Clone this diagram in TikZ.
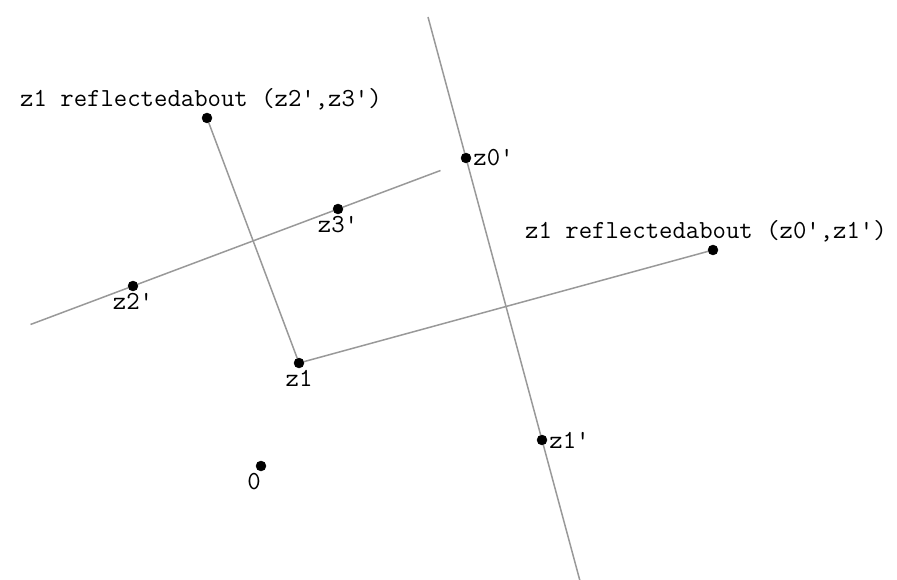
\documentclass[tikz,border=0pt]{standalone}
\usepackage{fontspec}
\usetikzlibrary{calc}
\begin{document}
\begin{tikzpicture}[
    x=1pt, y=-1pt,
    every label/.style={font=\ttfamily\fontsize{26}{28}\selectfont, inner sep=2pt},
    point/.style={circle, draw, fill=black, inner sep=0pt, minimum size=10pt},
    mirror/.style={draw=gray!80, line width=1.5pt}
]
\useasboundingbox (0,0) rectangle (897,580);
\node[point, label=right:z0'] (z0p) at (466,158) {};
\node[point, label=right:z1'] (z1p) at (542,440) {};
\node[point, label=below:z2'] (z2p) at (133,286) {};
\node[point, label=below:z3'] (z3p) at (338,209) {};
\node[point, label=below:z1] (z1) at (299,363) {};
\node[point, label={[xshift=-7pt]below:0}] (origin) at (261,466) {};
\node[point, label={[xshift=-6pt]above:z1 reflectedabout (z2',z3')}] (r23) at (207,118) {};
\node[point, label={[xshift=-7pt]above:z1 reflectedabout (z0',z1')}] (r01) at (713,250) {};
% mirror lines, running past both points
\coordinate (m01a) at ($(z0p)!-0.5!(z1p)$);
\coordinate (m01b) at ($(z0p)!1.5!(z1p)$);
\coordinate (m23a) at ($(z2p)!-0.5!(z3p)$);
\coordinate (m23b) at ($(z2p)!1.5!(z3p)$);
\draw[mirror] (m01a) -- (z0p) -- (z1p) -- (m01b);
\draw[mirror] (m23a) -- (z2p) -- (z3p) -- (m23b);
% z1 to its reflections
\draw[mirror] (z1) -- (r23);
\draw[mirror] (z1) -- (r01);
\end{tikzpicture}
\end{document}
